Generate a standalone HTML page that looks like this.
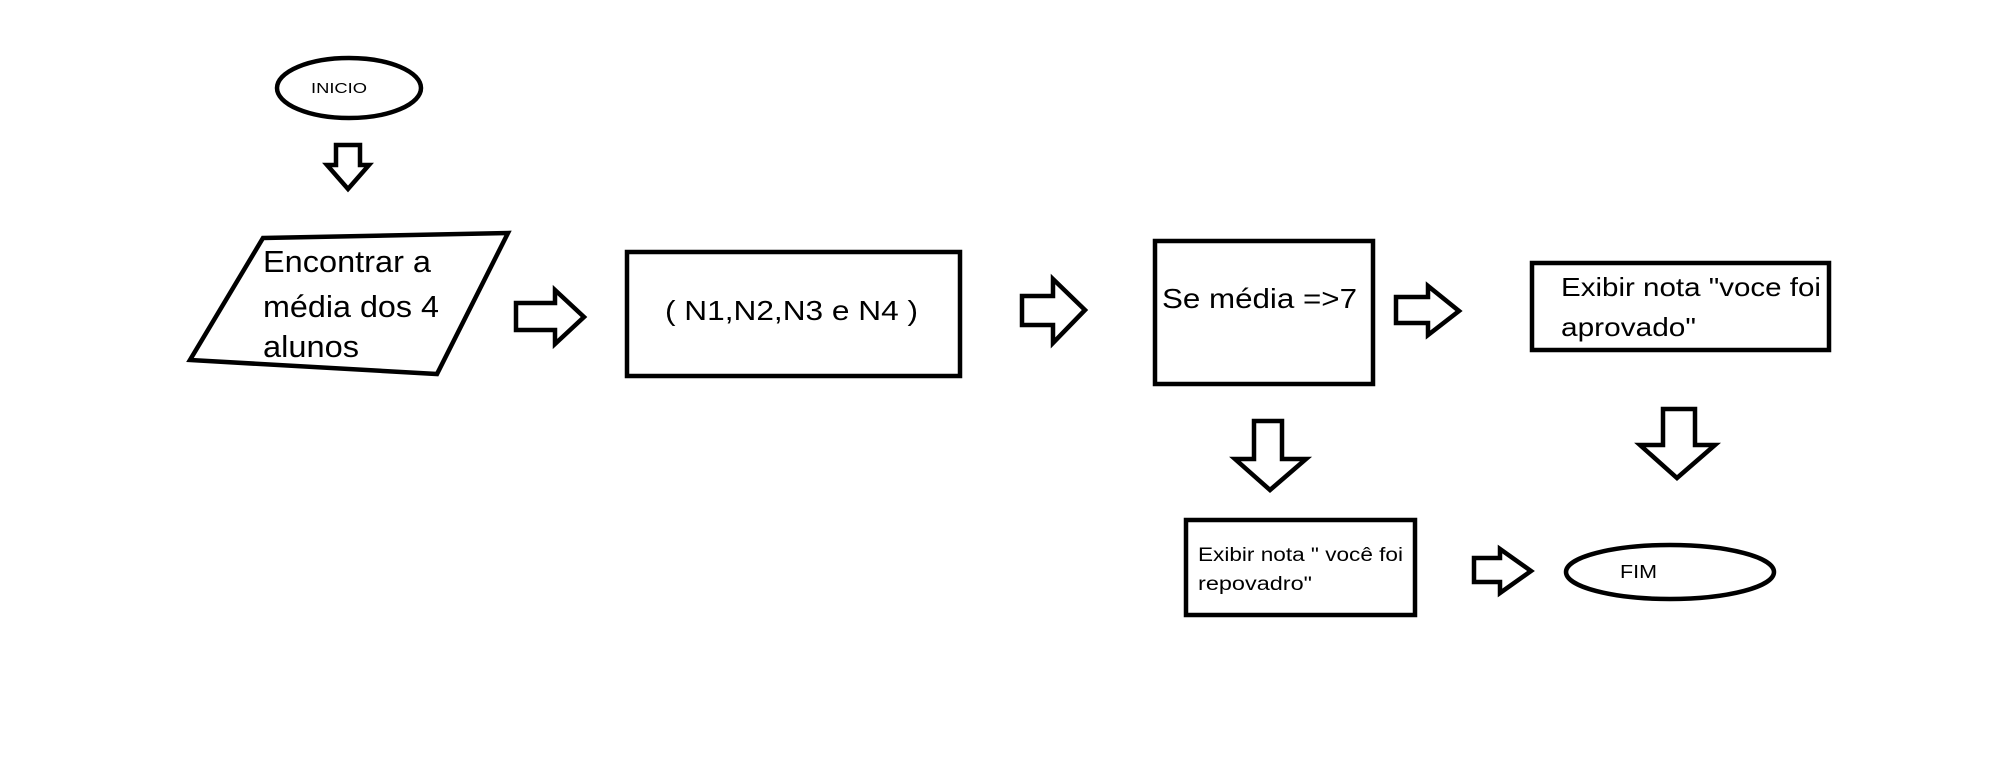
<!DOCTYPE html>
<html><head><meta charset="utf-8"><style>
html,body{margin:0;padding:0;background:#fff;}
svg{display:block;}
text{font-family:"Liberation Sans",sans-serif;fill:#000;}
</style></head><body>
<svg width="2011" height="783" viewBox="0 0 2011 783" xmlns="http://www.w3.org/2000/svg">
<g fill="none" stroke="#000" stroke-width="4.5" stroke-linejoin="miter">
<!-- INICIO -->
<ellipse cx="349" cy="88" rx="72" ry="30"/>
<!-- down arrow 1 -->
<polygon points="336,145 360,145 360,165 369,165 348,189 327,165 336,165"/>
<!-- parallelogram -->
<polygon points="263,238 508,233 437,374 190,360"/>
<!-- right arrow 1 -->
<polygon points="516,303 555,303 555,290 584,317 555,344 555,330 516,330"/>
<!-- rect 2 -->
<rect x="627" y="252" width="333" height="124"/>
<!-- right arrow 2 -->
<polygon points="1022,296 1053,296 1053,279 1085,310 1053,343 1053,325 1022,325"/>
<!-- rect 3 -->
<rect x="1155" y="241" width="218" height="143"/>
<!-- right arrow 3 -->
<polygon points="1396,297 1428,297 1428,286 1459,311 1428,335 1428,323 1396,323"/>
<!-- rect 4 -->
<rect x="1532" y="263" width="297" height="87"/>
<!-- down arrow 2 -->
<polygon points="1254,421 1282,421 1282,459 1306,459 1270,490 1235,459 1254,459"/>
<!-- down arrow 3 -->
<polygon points="1663,409 1695,409 1695,445 1715,445 1677,478 1640,445 1663,445"/>
<!-- rect 5 -->
<rect x="1186" y="520" width="229" height="95"/>
<!-- right arrow 4 -->
<polygon points="1474,558 1500,558 1500,549 1531,571 1500,593 1500,582 1474,582"/>
<!-- FIM -->
<ellipse cx="1670" cy="572" rx="104" ry="27"/>
</g>
<text x="311" y="93" font-size="15" textLength="56" lengthAdjust="spacingAndGlyphs">INICIO</text>
<text x="263" y="272" font-size="31" textLength="168" lengthAdjust="spacingAndGlyphs">Encontrar a</text>
<text x="263" y="317" font-size="31" textLength="176" lengthAdjust="spacingAndGlyphs">média dos 4</text>
<text x="263" y="357" font-size="31" textLength="96" lengthAdjust="spacingAndGlyphs">alunos</text>
<text x="665" y="320" font-size="28" textLength="253" lengthAdjust="spacingAndGlyphs">( N1,N2,N3 e N4 )</text>
<text x="1162" y="308" font-size="28" textLength="195" lengthAdjust="spacingAndGlyphs">Se média =&gt;7</text>
<text x="1561" y="296" font-size="26" textLength="260" lengthAdjust="spacingAndGlyphs">Exibir nota "voce foi</text>
<text x="1561" y="336" font-size="26" textLength="135" lengthAdjust="spacingAndGlyphs">aprovado"</text>
<text x="1198" y="561" font-size="19" textLength="205" lengthAdjust="spacingAndGlyphs">Exibir nota " você foi</text>
<text x="1198" y="590" font-size="19" textLength="114" lengthAdjust="spacingAndGlyphs">repovadro"</text>
<text x="1620" y="578" font-size="18" textLength="37" lengthAdjust="spacingAndGlyphs">FIM</text>
</svg>
</body></html>
